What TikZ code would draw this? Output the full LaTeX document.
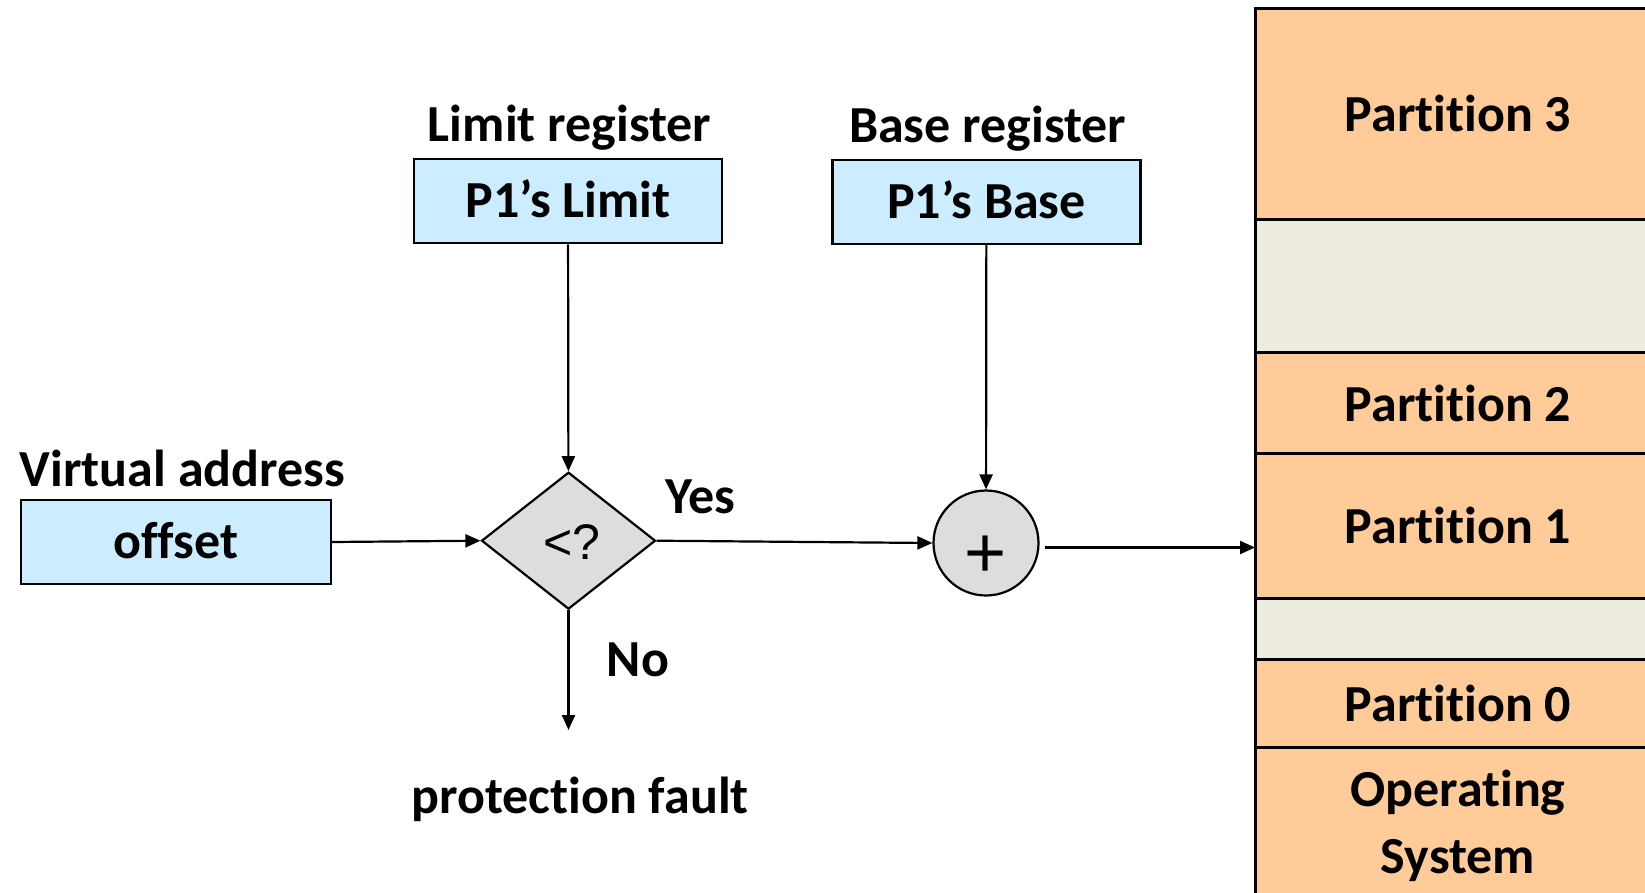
\documentclass[tikz,border=0pt]{standalone}
\usepackage{fontspec}
\usetikzlibrary{shapes.geometric,arrows.meta}
\newfontfamily\carlito[Ligatures=NoCommon]{Carlito}
\newfontfamily\arialish{Liberation Sans}
\definecolor{regblue}{HTML}{CCECFF}
\definecolor{cmpgray}{HTML}{DDDDDD}
\definecolor{partpeach}{HTML}{FFCC99}
\definecolor{freetan}{HTML}{EEECE1}
\tikzset{
  lbl/.style={font=\carlito\bfseries\fontsize{52}{64}\selectfont, anchor=base, inner sep=0pt},
  regbox/.style={draw, line width=2.2pt, fill=regblue, minimum width=308pt, minimum height=84pt,
    inner sep=0pt, text height=33pt, text depth=0pt, font=\carlito\bfseries\fontsize{52}{64}\selectfont},
  arr/.style={line width=2.2pt, -{Triangle[length=15pt,width=13pt]}},
  slot/.style={draw, line width=2.4pt},
  partlbl/.style={font=\carlito\bfseries\fontsize{52}{66.7}\selectfont, anchor=base, inner sep=0pt, align=center}
}
\begin{document}
\begin{tikzpicture}[x=1pt, y=-1pt]
\useasboundingbox (0,0) rectangle (1645,892);
\clip (0,0) rectangle (1645,892);

% physical memory column
\filldraw[slot, fill=partpeach] (1255,8.4) rectangle (1665,219.3);
\filldraw[slot, fill=freetan]   (1255,219.3) rectangle (1665,352.3);
\filldraw[slot, fill=partpeach] (1255,352.3) rectangle (1665,453.3);
\filldraw[slot, fill=partpeach] (1255,453.3) rectangle (1665,598.3);
\filldraw[slot, fill=freetan]   (1255,598.3) rectangle (1665,659.3);
\filldraw[slot, fill=partpeach] (1255,659.3) rectangle (1665,747.3);
\filldraw[slot, fill=partpeach] (1255,747.3) rectangle (1665,905);
\draw[line width=3pt] (1255,8.4) -- (1255,905);

\node[partlbl] (p3) at (1458,131.7) {Partition 3};
\node[partlbl] (p2) at (1458,421) {Partition 2};
\node[partlbl] (p1) at (1458,543.3) {Partition 1};
\node[partlbl] (p0) at (1458,721.7) {Partition 0};
\node[partlbl] (os1) at (1458,806.7) {Operating};
\node[partlbl] (os2) at (1458,873.3) {System};
\coordinate (memin) at (1255,547.5);

% registers
\node[lbl] (limlbl) at (569.6,141.7) {Limit register};
\node[lbl] (baselbl) at (987.7,142) {Base register};
\node[regbox] (limit) at (568,201.3) {P1’s Limit};
\node[regbox] (base) at (986.4,202) {P1’s Base};

% virtual address
\node[lbl] (valbl) at (182.5,486.7) {Virtual address};
\node[regbox, minimum width=310pt] (offset) at (175.7,542) {offset};

% comparison and adder
\node[draw, line width=2.2pt, fill=cmpgray, diamond, aspect=1.27, minimum width=174pt, minimum height=137pt,
  inner sep=0pt] (cmp) at (568.5,540.7) {};
\node[font=\arialish\fontsize{50}{56}\selectfont, anchor=base, inner sep=0pt] (cmptxt) at (571.6,559) {<?};
\node[draw, line width=2.2pt, fill=cmpgray, circle, minimum size=105pt, inner sep=0pt] (plus) at (986,543) {};
\node[font=\arialish\fontsize{72}{80}\selectfont, anchor=base, inner sep=0pt] (plustxt) at (986,577) {+};

\node[lbl] (yes) at (700.5,513.3) {Yes};
\node[lbl] (no) at (638,676.7) {No};
\node[lbl] (fault) at (580,813) {protection fault};
\coordinate (faultend) at (568.5,730);

% connectors
\draw[arr] (limit) -- (cmp);
\draw[arr] (base) -- (plus);
\draw[arr] (offset.east) -- (cmp.west);
\draw[arr] (cmp.east) -- (plus.west);
\draw[arr] (cmp.south) -- (faultend);
\draw[arr, shorten <=5pt] (plus.east |- memin) -- (memin);
\end{tikzpicture}
\end{document}
